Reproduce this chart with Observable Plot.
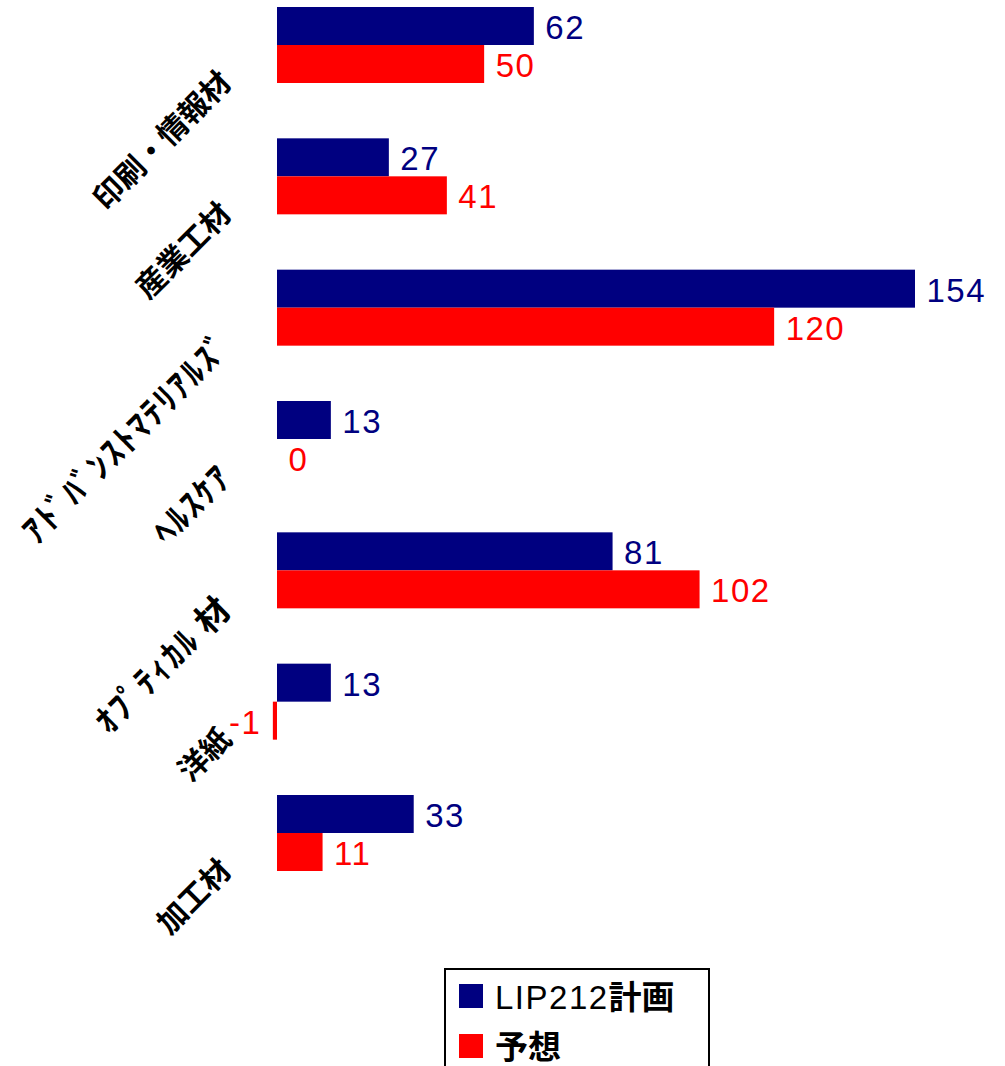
<!DOCTYPE html>
<html>
<head>
<meta charset="utf-8">
<script src="https://cdn.jsdelivr.net/npm/d3@7"></script>
<script src="https://cdn.jsdelivr.net/npm/@observablehq/plot@0.6"></script>
<style>
  html, body { margin: 0; padding: 0; background: #fff; }
  #chart svg { display: block; }
  #legend {
    margin-left: 444px; margin-top: 6px;
    width: 266px; height: 120px; box-sizing: border-box;
    border: 2px solid #000; padding: 1px 0 0 13px;
  }
  .row { display: flex; align-items: center; height: 50px; }
  .sw { width: 24px; height: 24px; margin-right: 12px; flex: none; }
  .lab { font-family: "Liberation Sans", Arial, sans-serif; font-size: 33px; letter-spacing: 1.5px; line-height: 1; }
  .lab b { font-family: "Noto Sans CJK JP", sans-serif; font-weight: 700; font-size: 33px; letter-spacing: 0; }
</style>
</head>
<body>
<div id="chart"></div>
<div id="legend"></div>
<script>
const categories = ["印刷・情報材", "産業工材", "ｱﾄﾞﾊﾞﾝｽﾄﾏﾃﾘｱﾙｽﾞ", "ﾍﾙｽｹｱ", "ｵﾌﾟﾃｨｶﾙ 材", "洋紙", "加工材"];
const plan = [62, 27, 154, 13, 81, 13, 33];
const forecast = [50, 41, 120, 0, 102, -1, 11];
const series = ["LIP212計画", "予想"];
const colors = ["#000080", "#ff0000"];

const data = categories.map((c, i) => ({category: c, plan: plan[i], forecast: forecast[i]}));

const valueFont = "Liberation Sans, Arial, sans-serif";
const catFont = "Noto Sans CJK JP, sans-serif";

const chart = Plot.plot({
  width: 1005,
  height: 962,
  marginLeft: 277,
  marginRight: 90,
  marginTop: 0,
  marginBottom: 0,
  x: {domain: [0, 154], range: [277, 915], axis: null},
  y: {domain: categories, range: [7, 871], paddingInner: 55.33 / 131.33, paddingOuter: 0, round: false, axis: null},
  marks: [
    Plot.barX(data, {y: "category", x: "plan", fill: colors[0], insetBottom: 38}),
    Plot.barX(data, {y: "category", x: "forecast", fill: colors[1], insetTop: 38}),
    Plot.text(data, {y: "category", x: "plan", text: d => String(d.plan), textAnchor: "start",
      dx: 11, dy: -17, fill: colors[0], fontSize: 33, fontFamily: valueFont}),
    Plot.text(data.filter(d => d.forecast >= 0), {y: "category", x: "forecast", text: d => String(d.forecast),
      textAnchor: "start", dx: 11, dy: 21, fill: colors[1], fontSize: 33, fontFamily: valueFont}),
    Plot.text(data.filter(d => d.forecast < 0), {y: "category", x: "forecast", text: d => "-" + String(-d.forecast),
      textAnchor: "end", dx: -12, dy: 21, fill: colors[1], fontSize: 33, fontFamily: valueFont}),
    Plot.text(categories, {y: d => d, text: d => d, frameAnchor: "left", dx: -51, dy: 32,
      rotate: -45, textAnchor: "end", fontSize: 30, fontWeight: "bold", fontFamily: catFont, fill: "#000"})
  ]
});

d3.select(chart).selectAll("text").each(function() {
  const t = this.textContent;
  if (/^-?\d+$/.test(t)) this.style.letterSpacing = "1.5px";
  else if (/[\uFF61-\uFF9F]/.test(t)) {
    this.style.letterSpacing = "2px";
    this.style.fontSize = "34px";
  }
});

document.getElementById("chart").appendChild(chart);

const legend = d3.select("#legend");
series.forEach((s, i) => {
  const row = legend.append("div").attr("class", "row");
  row.append("div").attr("class", "sw").style("background", colors[i]);
  const html = s.replace(/([\u3000-\u9FFF]+)/g, "<b>$1</b>");
  row.append("div").attr("class", "lab").html(html);
});
</script>
</body>
</html>
